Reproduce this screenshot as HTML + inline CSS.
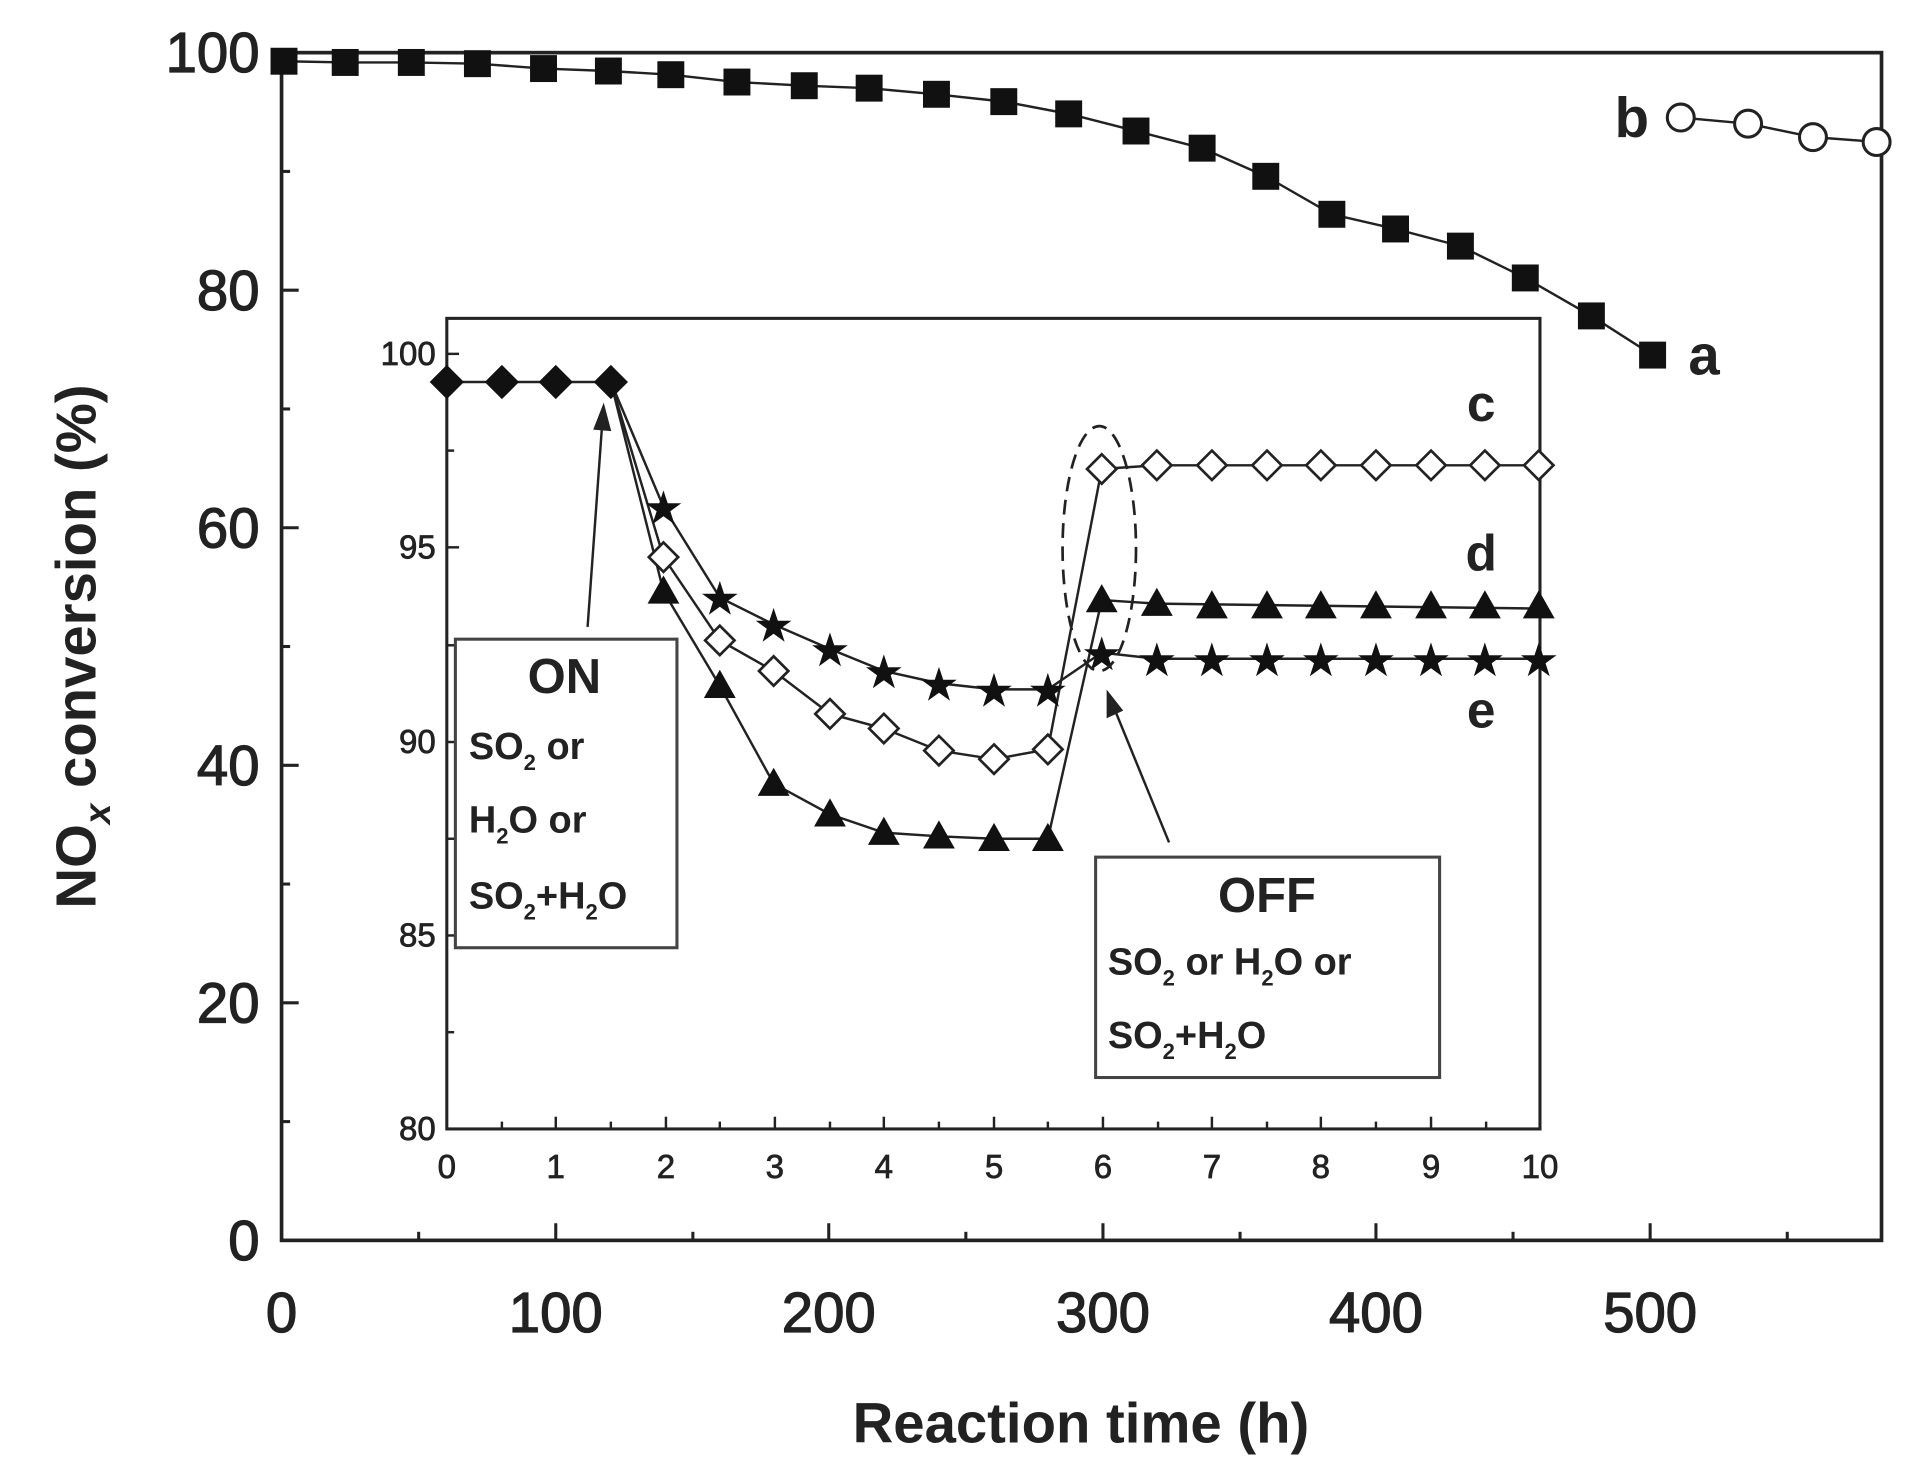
<!DOCTYPE html>
<html><head><style>html,body{margin:0;padding:0;background:#fff}</style></head><body>
<svg width="1906" height="1462" viewBox="0 0 1557 1194" preserveAspectRatio="none" xmlns="http://www.w3.org/2000/svg" font-family="Liberation Sans, Arial, sans-serif">
<rect width="1557" height="1194" fill="#fff"/>
<rect x="230" y="43" width="1307" height="970" fill="none" stroke="#222" stroke-width="3"/>
<g stroke="#222" stroke-width="2.5">
<line x1="230" y1="43" x2="244" y2="43"/><line x1="230" y1="237" x2="244" y2="237"/><line x1="230" y1="431" x2="244" y2="431"/><line x1="230" y1="625" x2="244" y2="625"/><line x1="230" y1="819" x2="244" y2="819"/>
<line x1="230" y1="140" x2="237" y2="140"/><line x1="230" y1="334" x2="237" y2="334"/><line x1="230" y1="528" x2="237" y2="528"/><line x1="230" y1="722" x2="237" y2="722"/><line x1="230" y1="916" x2="237" y2="916"/>
<line x1="454" y1="1013" x2="454" y2="999"/><line x1="677" y1="1013" x2="677" y2="999"/><line x1="901" y1="1013" x2="901" y2="999"/><line x1="1124" y1="1013" x2="1124" y2="999"/><line x1="1348" y1="1013" x2="1348" y2="999"/>
<line x1="342" y1="1013" x2="342" y2="1006"/><line x1="566" y1="1013" x2="566" y2="1006"/><line x1="789" y1="1013" x2="789" y2="1006"/><line x1="1013" y1="1013" x2="1013" y2="1006"/><line x1="1236" y1="1013" x2="1236" y2="1006"/><line x1="1460" y1="1013" x2="1460" y2="1006"/>
</g>
<g font-size="46" fill="#222" text-anchor="end" stroke="#222" stroke-width="1">
<text x="212" y="59">100</text><text x="212" y="253">80</text><text x="212" y="447">60</text><text x="212" y="641">40</text><text x="212" y="835">20</text><text x="212" y="1029">0</text>
</g>
<g font-size="46" fill="#222" text-anchor="middle" stroke="#222" stroke-width="1">
<text x="230" y="1088">0</text><text x="454" y="1088">100</text><text x="677" y="1088">200</text><text x="901" y="1088">300</text><text x="1124" y="1088">400</text><text x="1348" y="1088">500</text>
</g>
<text x="883" y="1178" font-size="46" font-weight="bold" fill="#222" text-anchor="middle">Reaction time (h)</text>
<text transform="translate(78,528) rotate(-90)" font-size="46" font-weight="bold" fill="#222" text-anchor="middle">NO<tspan font-size="30" font-style="italic" dy="12">x</tspan><tspan dy="-12"> conversion (%)</tspan></text>

<polyline fill="none" stroke="#222" stroke-width="2" points="232,50 282,51 336,51 390,52 444,56 497,58 548,61 602,67 657,70 710,72 765,77 820,83 873,93 928,107 982,121 1034,144 1088,175 1140,187 1193,201 1246,227 1300,258 1350,290"/>
<g fill="#111">
<rect x="221" y="39" width="22" height="22"/><rect x="271" y="40" width="22" height="22"/><rect x="325" y="40" width="22" height="22"/><rect x="379" y="41" width="22" height="22"/><rect x="433" y="45" width="22" height="22"/><rect x="486" y="47" width="22" height="22"/><rect x="537" y="50" width="22" height="22"/><rect x="591" y="56" width="22" height="22"/><rect x="646" y="59" width="22" height="22"/><rect x="699" y="61" width="22" height="22"/><rect x="754" y="66" width="22" height="22"/><rect x="809" y="72" width="22" height="22"/><rect x="862" y="82" width="22" height="22"/><rect x="917" y="96" width="22" height="22"/><rect x="971" y="110" width="22" height="22"/><rect x="1023" y="133" width="22" height="22"/><rect x="1077" y="164" width="22" height="22"/><rect x="1129" y="176" width="22" height="22"/><rect x="1182" y="190" width="22" height="22"/><rect x="1235" y="216" width="22" height="22"/><rect x="1289" y="247" width="22" height="22"/><rect x="1339" y="279" width="22" height="22"/>
</g>
<polyline fill="none" stroke="#222" stroke-width="2" points="1373,96 1428,101 1481,112 1535,116"/>
<g fill="#fff" stroke="#222" stroke-width="2.5">
<circle cx="1373" cy="96" r="11"/><circle cx="1428" cy="101" r="11"/><circle cx="1481" cy="112" r="11"/><circle cx="1533" cy="116" r="11"/>
</g>
<text x="1333" y="112" font-size="46" font-weight="bold" fill="#222" text-anchor="middle">b</text>
<text x="1392" y="306" font-size="46" font-weight="bold" fill="#222" text-anchor="middle">a</text>

<rect x="365" y="260" width="893" height="662" fill="#fff" stroke="#222" stroke-width="2.5"/>
<g stroke="#222" stroke-width="2">
<line x1="365" y1="289" x2="375" y2="289"/><line x1="365" y1="447" x2="375" y2="447"/><line x1="365" y1="606" x2="375" y2="606"/><line x1="365" y1="764" x2="375" y2="764"/>
<line x1="365" y1="368" x2="371" y2="368"/><line x1="365" y1="527" x2="371" y2="527"/><line x1="365" y1="685" x2="371" y2="685"/><line x1="365" y1="843" x2="371" y2="843"/>
<line x1="454" y1="922" x2="454" y2="912"/><line x1="544" y1="922" x2="544" y2="912"/><line x1="633" y1="922" x2="633" y2="912"/><line x1="722" y1="922" x2="722" y2="912"/><line x1="812" y1="922" x2="812" y2="912"/><line x1="901" y1="922" x2="901" y2="912"/><line x1="990" y1="922" x2="990" y2="912"/><line x1="1079" y1="922" x2="1079" y2="912"/><line x1="1169" y1="922" x2="1169" y2="912"/>
<line x1="410" y1="922" x2="410" y2="916"/><line x1="499" y1="922" x2="499" y2="916"/><line x1="588" y1="922" x2="588" y2="916"/><line x1="678" y1="922" x2="678" y2="916"/><line x1="767" y1="922" x2="767" y2="916"/><line x1="856" y1="922" x2="856" y2="916"/><line x1="946" y1="922" x2="946" y2="916"/><line x1="1035" y1="922" x2="1035" y2="916"/><line x1="1124" y1="922" x2="1124" y2="916"/><line x1="1214" y1="922" x2="1214" y2="916"/>
</g>
<g font-size="27" fill="#222" text-anchor="end" stroke="#222" stroke-width="0.6">
<text x="356" y="298">100</text><text x="356" y="456">95</text><text x="356" y="615">90</text><text x="356" y="773">85</text><text x="356" y="931">80</text>
</g>
<g font-size="27" fill="#222" text-anchor="middle" stroke="#222" stroke-width="0.6">
<text x="365" y="962">0</text><text x="454" y="962">1</text><text x="544" y="962">2</text><text x="633" y="962">3</text><text x="722" y="962">4</text><text x="812" y="962">5</text><text x="901" y="962">6</text><text x="990" y="962">7</text><text x="1079" y="962">8</text><text x="1169" y="962">9</text><text x="1258" y="962">10</text>
</g>
<g fill="none" stroke="#222" stroke-width="2">
<polyline points="365,312 499,312 542,414 588,488 632,510 678,530 722,548 767,558 812,563 856,563 900,533 945,538 1257,538"/>
<polyline points="499,312 542,455 588,523 632,548 678,583 722,595 767,613 812,620 856,612 900,383 945,380 1257,380"/>
<polyline points="499,312 542,483 588,560 632,640 678,665 722,680 767,683 812,685 856,685 900,490 945,493 1257,497"/>
</g>
<g fill="#111">
<polygon points="365,298 379,312 365,326 351,312"/><polygon points="410,298 424,312 410,326 396,312"/><polygon points="454,298 468,312 454,326 440,312"/><polygon points="499,298 513,312 499,326 485,312"/>
</g>
<g fill="#111">
<polygon points="542,470 555,493 529,493"/><polygon points="588,547 601,570 575,570"/><polygon points="632,627 645,650 619,650"/><polygon points="678,652 691,675 665,675"/><polygon points="722,667 735,690 709,690"/><polygon points="767,670 780,693 754,693"/><polygon points="812,672 825,695 799,695"/><polygon points="856,672 869,695 843,695"/>
<polygon points="900,477 913,500 887,500"/><polygon points="945,480 958,503 932,503"/><polygon points="990,482 1003,505 977,505"/><polygon points="1035,482 1048,505 1022,505"/><polygon points="1079,482 1092,505 1066,505"/><polygon points="1124,482 1137,505 1111,505"/><polygon points="1169,482 1182,505 1156,505"/><polygon points="1213,482 1226,505 1200,505"/><polygon points="1257,482 1270,505 1244,505"/>
</g>
<g fill="#fff" stroke="#222" stroke-width="2.2">
<polygon points="542,443 554,455 542,467 530,455"/><polygon points="588,511 600,523 588,535 576,523"/><polygon points="632,536 644,548 632,560 620,548"/><polygon points="678,571 690,583 678,595 666,583"/><polygon points="722,583 734,595 722,607 710,595"/><polygon points="767,601 779,613 767,625 755,613"/><polygon points="812,608 824,620 812,632 800,620"/><polygon points="856,600 868,612 856,624 844,612"/>
<polygon points="900,371 912,383 900,395 888,383"/><polygon points="945,368 957,380 945,392 933,380"/><polygon points="990,368 1002,380 990,392 978,380"/><polygon points="1035,368 1047,380 1035,392 1023,380"/><polygon points="1079,368 1091,380 1079,392 1067,380"/><polygon points="1124,368 1136,380 1124,392 1112,380"/><polygon points="1169,368 1181,380 1169,392 1157,380"/><polygon points="1213,368 1225,380 1213,392 1201,380"/><polygon points="1257,368 1269,380 1257,392 1245,380"/>
</g>
<g fill="#111" font-size="38" text-anchor="middle">
<text x="542" y="428">★</text><text x="588" y="502">★</text><text x="632" y="524">★</text><text x="678" y="544">★</text><text x="722" y="562">★</text><text x="767" y="572">★</text><text x="812" y="577">★</text><text x="856" y="577">★</text>
<text x="900" y="547">★</text><text x="945" y="552">★</text><text x="990" y="552">★</text><text x="1035" y="552">★</text><text x="1079" y="552">★</text><text x="1124" y="552">★</text><text x="1169" y="552">★</text><text x="1213" y="552">★</text><text x="1257" y="552">★</text>
</g>
<ellipse cx="898" cy="448" rx="30" ry="100" fill="none" stroke="#222" stroke-width="2.2" stroke-dasharray="12,7"/>
<g font-size="42" font-weight="bold" fill="#222" text-anchor="middle">
<text x="1210" y="344">c</text><text x="1210" y="466">d</text><text x="1210" y="594">e</text>
</g>
<g stroke="#222" stroke-width="2" fill="#222">
<line x1="480" y1="512" x2="492" y2="345"/><polygon points="493,332 486,350 498,351"/>
<line x1="955" y1="688" x2="910" y2="578"/><polygon points="905,566 905,585 916,580"/>
</g>
<rect x="372" y="522" width="181" height="252" fill="#fff" stroke="#444" stroke-width="2.5"/>
<g font-weight="bold" fill="#222">
<text x="461" y="566" font-size="40" text-anchor="middle">ON</text>
<text x="383" y="620" font-size="31">SO<tspan font-size="18" dy="9">2</tspan><tspan dy="-9">  or</tspan></text>
<text x="383" y="680" font-size="31">H<tspan font-size="18" dy="9">2</tspan><tspan dy="-9">O or</tspan></text>
<text x="383" y="742" font-size="31">SO<tspan font-size="18" dy="9">2</tspan><tspan dy="-9">+H</tspan><tspan font-size="18" dy="9">2</tspan><tspan dy="-9">O</tspan></text>
</g>
<rect x="895" y="700" width="281" height="180" fill="#fff" stroke="#444" stroke-width="2.5"/>
<g font-weight="bold" fill="#222">
<text x="1035" y="745" font-size="40" text-anchor="middle">OFF</text>
<text x="905" y="796" font-size="31">SO<tspan font-size="18" dy="9">2</tspan><tspan dy="-9">  or H</tspan><tspan font-size="18" dy="9">2</tspan><tspan dy="-9">O or</tspan></text>
<text x="905" y="856" font-size="31">SO<tspan font-size="18" dy="9">2</tspan><tspan dy="-9">+H</tspan><tspan font-size="18" dy="9">2</tspan><tspan dy="-9">O</tspan></text>
</g>
</svg>
</body></html>
